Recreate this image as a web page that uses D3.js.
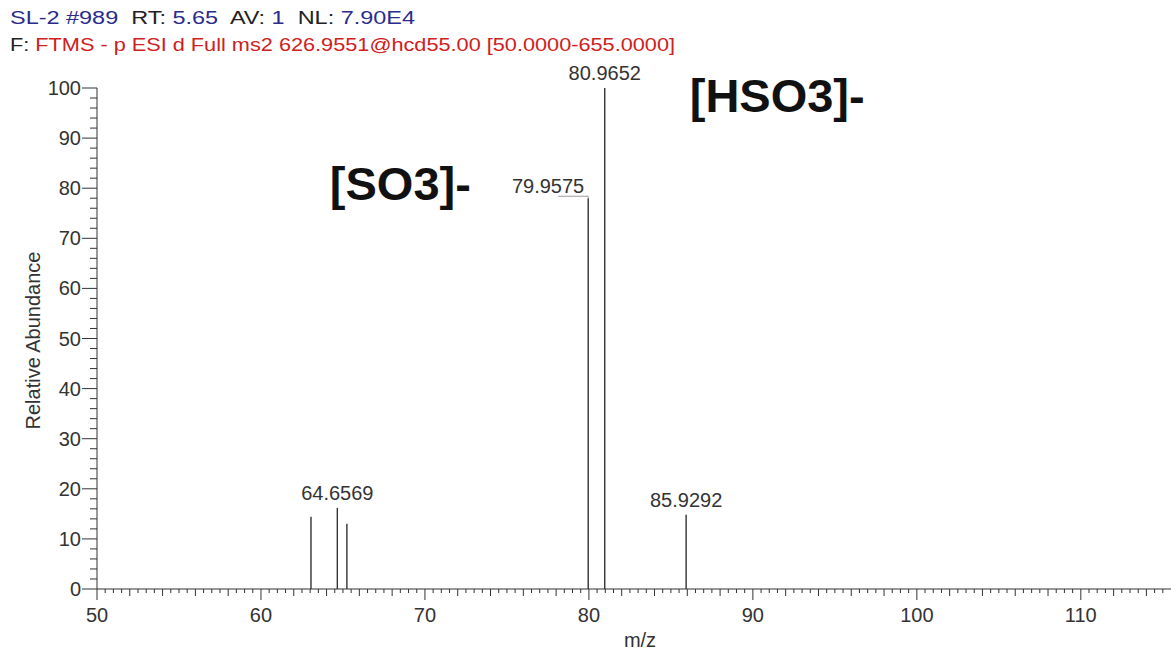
<!DOCTYPE html>
<html>
<head>
<meta charset="utf-8">
<script src="https://cdn.jsdelivr.net/npm/d3@7"></script>
<style>
  body { margin: 0; background: #fff; }
  svg { display: block; font-family: Arial, "Liberation Sans", sans-serif; }
</style>
</head>
<body>
<svg id="chart"></svg>
<script>
// Spectrum data
const peakMz = [63.05, 64.6569, 65.24, 79.9575, 80.9652, 85.9292];
const peakIntensity = [14.4, 16.2, 13.0, 78.0, 100, 14.8];
const peakLabelled = [false, true, false, true, true, true];

const xTicks = [50, 60, 70, 80, 90, 100, 110];
const yTicks = [0, 10, 20, 30, 40, 50, 60, 70, 80, 90, 100];

const header1 = [
  ["SL-2 #989", "#2b2b8c"], ["  RT: ", "#222"], ["5.65", "#2b2b8c"],
  ["  AV: ", "#222"], ["1", "#2b2b8c"], ["  NL: ", "#222"], ["7.90E4", "#2b2b8c"]
];
const header2 = [
  ["F: ", "#222"], ["FTMS - p ESI d Full ms2 626.9551@hcd55.00 [50.0000-655.0000]", "#d02020"]
];

// ion annotations: left edge m/z and baseline in abundance units
const ionNotes = [
  { text: "[SO3]-", mz: 64.2, y: 77.6 },
  { text: "[HSO3]-", mz: 86.15, y: 95.2 }
];

const width = 1171, height = 652;
const svg = d3.select("#chart").attr("width", width).attr("height", height);

const x = d3.scaleLinear().domain([50, 115.5]).range([97, 1171]);
const y = d3.scaleLinear().domain([0, 100]).range([589, 88]);
const ink = "#333";

// header
[[header1, 24, 405], [header2, 51, 665]].forEach(([parts, yy, w]) => {
  const t = svg.append("text").attr("x", 10).attr("y", yy)
    .attr("font-size", 18).attr("textLength", w).attr("lengthAdjust", "spacingAndGlyphs")
    .style("white-space", "pre");
  parts.forEach(([s, c]) => t.append("tspan").attr("fill", c).text(s));
});

// y axis: major and minor ticks
const yAxis = svg.append("g").attr("transform", `translate(${x(50)},0)`);
yAxis.append("line").attr("y1", y(0)).attr("y2", y(100)).attr("stroke", ink);
d3.range(0, 101, 2).forEach(v => {
  const major = v % 10 === 0;
  yAxis.append("line").attr("x1", major ? -15 : -7).attr("x2", 0)
    .attr("y1", y(v)).attr("y2", y(v)).attr("stroke", ink);
});
yAxis.selectAll("text.tl").data(yTicks).join("text")
  .attr("x", -16).attr("y", d => y(d) + 7).attr("text-anchor", "end")
  .attr("font-size", 20).attr("fill", "#333").text(d => d);

// x axis
const xAxis = svg.append("g").attr("transform", `translate(0,${y(0)})`);
xAxis.append("line").attr("x1", x(50)).attr("x2", width).attr("stroke", ink);
d3.range(50, 115.5, 0.5).forEach(v => {
  const len = v % 10 === 0 ? 11 : (v % 2 === 0 ? 7 : 4);
  xAxis.append("line").attr("x1", x(v)).attr("x2", x(v)).attr("y1", 0).attr("y2", len)
    .attr("stroke", ink);
});
xAxis.selectAll("text.tl").data(xTicks).join("text")
  .attr("x", d => x(d)).attr("y", 33).attr("text-anchor", "middle")
  .attr("font-size", 20).attr("fill", "#333").text(d => d);

// axis titles
svg.append("text").attr("transform", `translate(40,${(y(0) + y(100)) / 2 + 2}) rotate(-90)`)
  .attr("text-anchor", "middle").attr("font-size", 20).attr("fill", "#333")
  .text("Relative Abundance");
svg.append("text").attr("x", 640).attr("y", 647).attr("text-anchor", "middle")
  .attr("font-size", 20).attr("fill", "#333").text("m/z");

// peaks
const peaks = peakMz.map((m, i) => ({ mz: m, h: peakIntensity[i], lab: peakLabelled[i] }));
svg.append("g").selectAll("line").data(peaks).join("line")
  .attr("x1", d => x(d.mz)).attr("x2", d => x(d.mz))
  .attr("y1", y(0)).attr("y2", d => y(d.h))
  .attr("stroke", ink).attr("stroke-width", 1.4);

// peak labels (79.9575 sits to the left with a leader line)
peaks.filter(d => d.lab).forEach(d => {
  const px = x(d.mz), py = y(d.h);
  if (d.mz === 79.9575) {
    svg.append("path").attr("d", `M${px},${py} L${px},${py - 2} L${px - 30},${py - 2}`)
      .attr("fill", "none").attr("stroke", "#9a9a9a").attr("stroke-width", 1);
    svg.append("text").attr("x", px - 4).attr("y", py - 5).attr("text-anchor", "end")
      .attr("font-size", 20).attr("fill", "#333").text(d.mz.toFixed(4));
  } else {
    svg.append("text").attr("x", px).attr("y", py - 8).attr("text-anchor", "middle")
      .attr("font-size", 20).attr("fill", "#333").text(d.mz.toFixed(4));
  }
});

// ion annotations
svg.selectAll("text.ion").data(ionNotes).join("text")
  .attr("x", d => x(d.mz)).attr("y", d => y(d.y))
  .attr("font-size", 47).attr("font-weight", "bold").attr("fill", "#111")
  .text(d => d.text);
</script>
</body>
</html>
